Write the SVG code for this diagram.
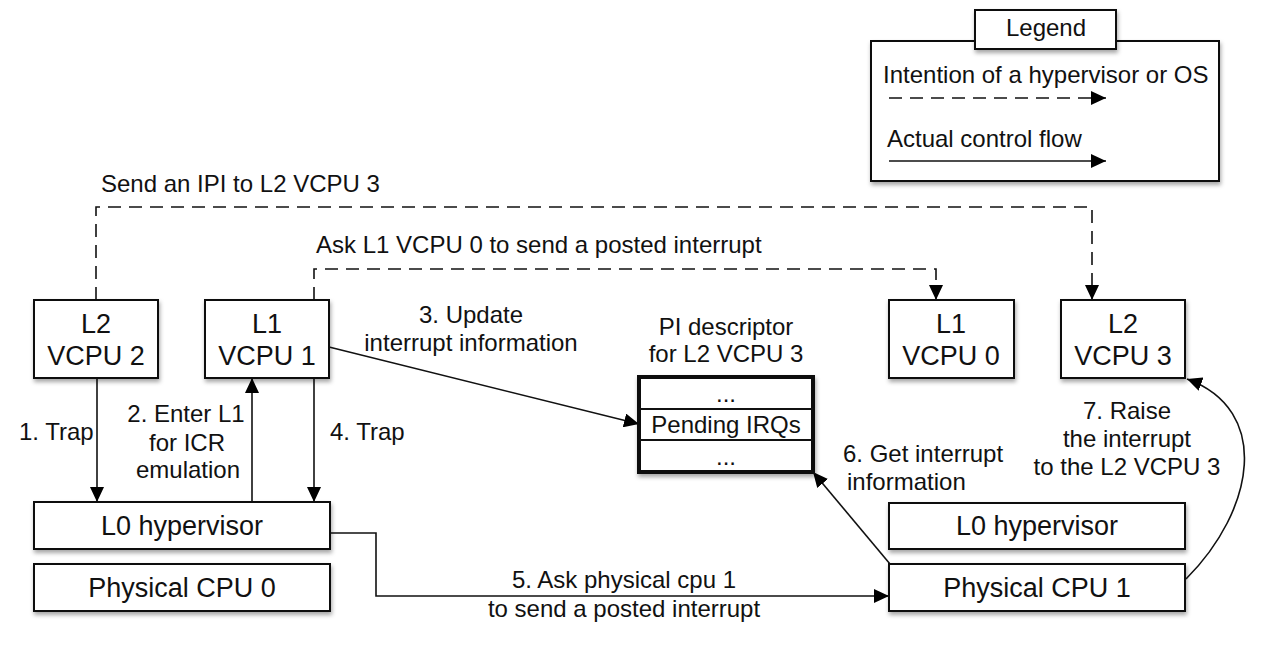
<svg xmlns="http://www.w3.org/2000/svg" width="1266" height="664" viewBox="0 0 1266 664">
<defs>
<filter id="sh" x="-10%" y="-20%" width="120%" height="150%">
<feDropShadow dx="1" dy="3" stdDeviation="2" flood-color="#000" flood-opacity="0.35"/>
</filter>
<marker id="ah" markerUnits="userSpaceOnUse" markerWidth="16" markerHeight="14" viewBox="0 0 16 14" refX="15" refY="7" orient="auto">
<path d="M0,0 L15,7 L0,14 z" fill="#000"/>
</marker>
<style>
.box{fill:#fff;stroke:#111;stroke-width:2;filter:url(#sh)}
.thick{fill:#fff;stroke:#111;stroke-width:4;filter:url(#sh)}
.t{font-family:"Liberation Sans",Arial,sans-serif;fill:#111}
.b{font-size:27px;text-anchor:middle}
.l{font-size:24px}
.m{text-anchor:middle}
.solid{fill:none;stroke:#111;stroke-width:1.6}
.dash{fill:none;stroke:#111;stroke-width:1.6;stroke-dasharray:13 8}
</style>
</defs>
<rect width="1266" height="664" fill="#fff"/>

<g id="legend">
<rect class="box" x="871" y="41" width="348" height="140"/>
<rect class="box" x="975" y="10" width="141" height="39"/>
<text class="t l m" x="1046" y="36">Legend</text>
<text class="t l" x="883" y="83">Intention of a hypervisor or OS</text>
<line class="dash" x1="889" y1="98" x2="1106" y2="98" marker-end="url(#ah)"/>
<text class="t l" x="887" y="147">Actual control flow</text>
<line class="solid" x1="889" y1="161" x2="1106" y2="161" marker-end="url(#ah)"/>
</g>

<g id="connectors">
<path class="dash" d="M96,300 V207 H1092 V300" marker-end="url(#ah)"/>
<path class="dash" d="M314,300 V269 H936 V300" marker-end="url(#ah)"/>
<line class="solid" x1="97" y1="378" x2="97" y2="502" marker-end="url(#ah)"/>
<line class="solid" x1="252" y1="502" x2="252" y2="378" marker-end="url(#ah)"/>
<line class="solid" x1="314" y1="378" x2="314" y2="502" marker-end="url(#ah)"/>
<line class="solid" x1="329" y1="347" x2="639" y2="424" marker-end="url(#ah)"/>
<path class="solid" d="M330,533 H376 V596 H889" marker-end="url(#ah)"/>
<line class="solid" x1="890" y1="564" x2="813" y2="472" marker-end="url(#ah)"/>
<path class="solid" d="M1186,579 C1255,510 1272,410 1187,379" marker-end="url(#ah)"/>
<text class="t l" x="101" y="192">Send an IPI to L2 VCPU 3</text>
<text class="t l" x="316" y="253">Ask L1 VCPU 0 to send a posted interrupt</text>
<text class="t l" x="19" y="440">1. Trap</text>
<text class="t l m" x="186" y="422">2. Enter L1</text>
<text class="t l m" x="187" y="451">for ICR</text>
<text class="t l m" x="188" y="478">emulation</text>
<text class="t l" x="330" y="440">4. Trap</text>
<text class="t l m" x="471" y="323">3. Update</text>
<text class="t l m" x="471" y="351">interrupt information</text>
<text class="t l m" x="624" y="588">5. Ask physical cpu 1</text>
<text class="t l m" x="624" y="617">to send a posted interrupt</text>
<text class="t l" x="843" y="462">6. Get interrupt</text>
<text class="t l" x="847" y="490">information</text>
<text class="t l m" x="1127" y="419">7. Raise</text>
<text class="t l m" x="1127" y="447">the interrupt</text>
<text class="t l m" x="1127" y="475">to the L2 VCPU 3</text>
</g>

<g id="l2vcpu2">
<rect class="box" x="34" y="300" width="124" height="78"/>
<text class="t b" x="96" y="333">L2</text>
<text class="t b" x="96" y="365">VCPU 2</text>
</g>
<g id="l1vcpu1">
<rect class="box" x="205" y="300" width="124" height="78"/>
<text class="t b" x="267" y="333">L1</text>
<text class="t b" x="267" y="365">VCPU 1</text>
</g>
<g id="l1vcpu0">
<rect class="box" x="889" y="300" width="125" height="78"/>
<text class="t b" x="951" y="333">L1</text>
<text class="t b" x="951" y="365">VCPU 0</text>
</g>
<g id="l2vcpu3">
<rect class="box" x="1061" y="300" width="124" height="78"/>
<text class="t b" x="1123" y="333">L2</text>
<text class="t b" x="1123" y="365">VCPU 3</text>
</g>
<g id="pidesc">
<text class="t l m" x="726" y="335">PI descriptor</text>
<text class="t l m" x="726" y="362">for L2 VCPU 3</text>
<rect class="thick" x="639" y="377" width="174" height="95"/>
<line x1="639" y1="409" x2="813" y2="409" stroke="#111" stroke-width="2"/>
<line x1="639" y1="440" x2="813" y2="440" stroke="#111" stroke-width="2"/>
<text class="t l m" x="726" y="402">...</text>
<text class="t l m" x="726" y="433">Pending IRQs</text>
<text class="t l m" x="726" y="465">...</text>
</g>
<g id="l0hyp0">
<rect class="box" x="34" y="502" width="296" height="47"/>
<text class="t b" x="182" y="535">L0 hypervisor</text>
</g>
<g id="pcpu0">
<rect class="box" x="34" y="564" width="296" height="47"/>
<text class="t b" x="182" y="597">Physical CPU 0</text>
</g>
<g id="l0hyp1">
<rect class="box" x="889" y="503" width="296" height="46"/>
<text class="t b" x="1037" y="535">L0 hypervisor</text>
</g>
<g id="pcpu1">
<rect class="box" x="889" y="564" width="296" height="47"/>
<text class="t b" x="1037" y="597">Physical CPU 1</text>
</g>
</svg>
